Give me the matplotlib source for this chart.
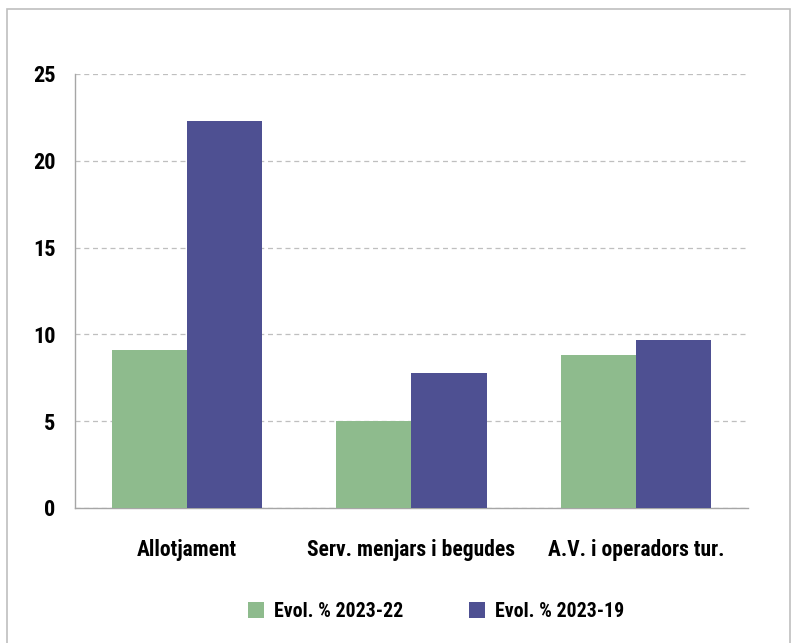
import matplotlib
matplotlib.use("Agg")
import matplotlib.pyplot as plt
import numpy as np
from matplotlib.patches import Rectangle

# ── data ──────────────────────────────────────────────────────────────────────
categories = ["Allotjament", "Serv. menjars i begudes", "A.V. i operadors tur."]
evol_2023_22 = [9.1, 5.0, 8.8]
evol_2023_19 = [22.3, 7.8, 9.7]
series_labels = ["Evol. % 2023-22", "Evol. % 2023-19"]
yticks = [0, 5, 10, 15, 20, 25]

GREEN = "#8EBB8D"
PURPLE = "#4E5092"

plt.rcParams["font.family"] = ["Roboto Condensed", "DejaVu Sans Condensed",
                               "Liberation Sans Narrow", "Roboto", "DejaVu Sans"]
plt.rcParams["font.weight"] = "bold"

fig = plt.figure(figsize=(7.96, 6.43), dpi=100)
fig.patches.append(Rectangle((0.009, -0.01), 0.984, 0.996, transform=fig.transFigure,
                             fill=False, edgecolor="#BFBFBF", linewidth=1.2))

ax = fig.add_axes([0.0942, 0.21, 0.8455, 0.675])
x = np.arange(len(categories))
w = 0.335
ax.bar(x - w / 2, evol_2023_22, w, color=GREEN, label=series_labels[0], zorder=3)
ax.bar(x + w / 2, evol_2023_19, w, color=PURPLE, label=series_labels[1], zorder=3)

ax.set_xlim(-0.5, 2.5)
ax.set_ylim(0, 25)
ax.set_yticks(yticks)
ax.set_xticks(x)
ax.set_xticklabels(categories, fontsize=15.5, fontweight="bold")
ax.tick_params(axis="y", labelsize=16, length=0, pad=14)
ax.tick_params(axis="x", length=0, pad=22)
for lbl in ax.get_yticklabels():
    lbl.set_fontweight("bold")

ax.yaxis.grid(True, linestyle=(0, (4, 3)), color="#BFBFBF", linewidth=0.9, zorder=0)
for s in ["top", "right"]:
    ax.spines[s].set_visible(False)
for s in ["left", "bottom"]:
    ax.spines[s].set_color("#A6A6A6")
    ax.spines[s].set_linewidth(1.0)

fig.legend(loc="center", bbox_to_anchor=(0.548, 0.049), ncol=2, frameon=False,
           handlelength=0.8, handleheight=0.8, columnspacing=3.3,
           handletextpad=0.5, prop={"weight": "bold", "size": 14.3})

fig.savefig("out.png", dpi=100)
